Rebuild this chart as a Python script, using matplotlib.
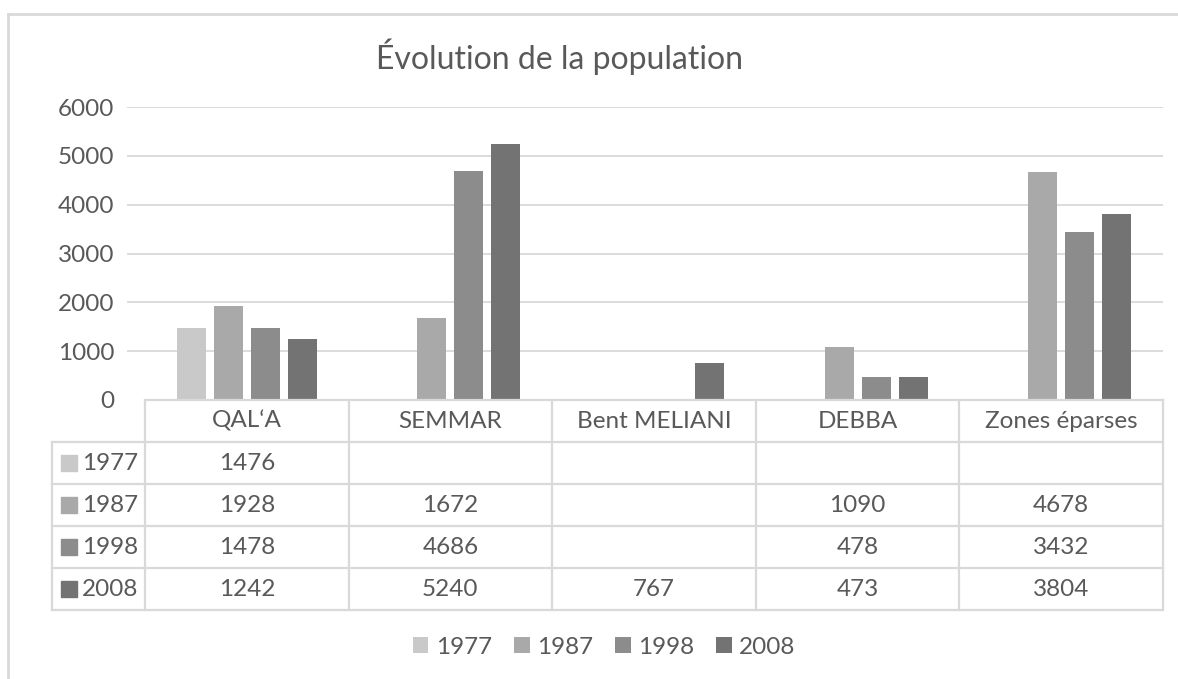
import matplotlib.pyplot as plt
import numpy as np
from matplotlib.patches import Rectangle

# data
categories = ["QAL‘A", "SEMMAR", "Bent MELIANI", "DEBBA", "Zones éparses"]
years = ["1977", "1987", "1998", "2008"]
pop_1977 = [1476, None, None, None, None]
pop_1987 = [1928, 1672, None, 1090, 4678]
pop_1998 = [1478, 4686, None, 478, 3432]
pop_2008 = [1242, 5240, 767, 473, 3804]
series = [pop_1977, pop_1987, pop_1998, pop_2008]
colors = ["#c9c9c9", "#a9a9a9", "#8c8c8c", "#737373"]

plt.rcParams['font.family'] = ['Lato', 'DejaVu Sans']
text_col = "#595959"
grid_col = "#d9d9d9"
fs = 17.5

W, H = 1178, 679
fig = plt.figure(figsize=(W / 100, H / 100), dpi=100)


def fx(px):
    return px / W


def fy(py):
    return 1 - py / H


# plot area (pixel positions from the reference)
left_px, right_px, top_px, bot_px = 127, 1163, 107, 400
tab_left = 145
col_w = (right_px - tab_left) / len(categories)

ax = fig.add_axes([fx(left_px), fy(bot_px), (right_px - left_px) / W, (bot_px - top_px) / H])
x = np.arange(len(categories))
bw = 29 / col_w
step = 37 / col_w
for i, (vals, c) in enumerate(zip(series, colors)):
    h = [np.nan if v is None else v for v in vals]
    ax.bar(x + (i - 1.5) * step, h, bw, color=c, zorder=2, label=years[i])

xmin = -0.5 - (tab_left - left_px) / col_w
ax.set_xlim(xmin, len(categories) - 0.5)
ax.set_ylim(0, 6000)
ticks = list(range(0, 6001, 1000))
ax.set_yticks(ticks)
ax.hlines(ticks[1:], xmin, len(categories) - 0.5, color=grid_col, linewidth=1.3, zorder=1)
ax.tick_params(axis='y', length=0, pad=9, labelsize=fs, labelcolor=text_col)
ax.set_xticks([])
for s in ax.spines.values():
    s.set_visible(False)

# overlay in pixel coords for title, table and chart border
ov = fig.add_axes([0, 0, 1, 1])
ov.set_xlim(0, W)
ov.set_ylim(H, 0)
ov.axis('off')
ov.patch.set_alpha(0)

ov.text(559, 57, "Évolution de la population", ha='center', va='center',
        fontsize=23, color=text_col)

# chart border
ov.plot([8, 8], [H + 5, 14], color=grid_col, lw=2)
ov.plot([8, W + 5], [14, 14], color=grid_col, lw=2)

# data table
row_y = [400, 442, 484, 526, 568, 610]
leg_left = 52
col_x = [tab_left + k * col_w for k in range(len(categories) + 1)]
lw = 1.6
ov.plot([tab_left, right_px], [row_y[0], row_y[0]], color=grid_col, lw=lw)
for yy in row_y[1:]:
    ov.plot([leg_left, right_px], [yy, yy], color=grid_col, lw=lw)
ov.plot([leg_left, leg_left], [row_y[1], row_y[-1]], color=grid_col, lw=lw)
for xx in col_x:
    ov.plot([xx, xx], [row_y[0], row_y[-1]], color=grid_col, lw=lw)

for k, cat in enumerate(categories):
    cx = (col_x[k] + col_x[k + 1]) / 2
    ov.text(cx, (row_y[0] + row_y[1]) / 2, cat, ha='center', va='center',
            fontsize=fs, color=text_col)

for i, (vals, c) in enumerate(zip(series, colors)):
    cy = (row_y[i + 1] + row_y[i + 2]) / 2
    ov.add_patch(Rectangle((61, cy - 8), 16, 16, color=c))
    ov.text(82, cy, years[i], ha='left', va='center', fontsize=fs, color=text_col)
    for k, v in enumerate(vals):
        if v is not None:
            cx = (col_x[k] + col_x[k + 1]) / 2
            ov.text(cx, cy, str(v), ha='center', va='center', fontsize=fs, color=text_col)

# legend
fig.legend(loc='center', bbox_to_anchor=(fx(604), fy(647)), ncol=4, frameon=False,
           fontsize=fs, labelcolor=text_col, handlelength=0.65, handleheight=0.65,
           handletextpad=0.3, columnspacing=0.9)

fig.savefig("out.png", dpi=100)
